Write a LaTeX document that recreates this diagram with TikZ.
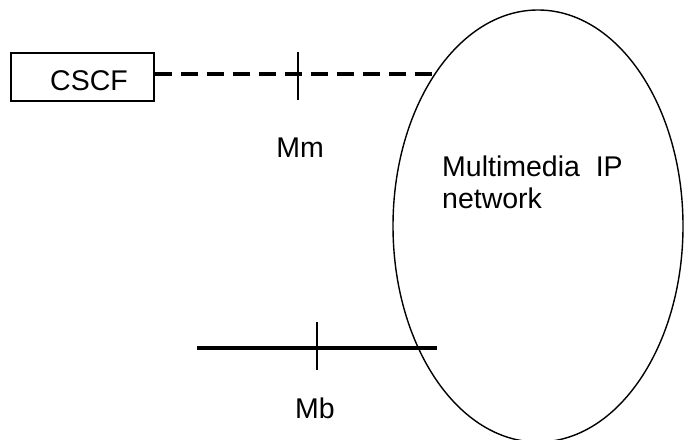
\documentclass[tikz,border=0pt]{standalone}
\usepackage{fontspec}
\setmainfont{Liberation Sans}
\usetikzlibrary{shapes.geometric}
\begin{document}
\begin{tikzpicture}[x=1pt,y=-1pt,
  thinline/.style={line width=1.4pt},
  lbl/.style={inner sep=0pt,font=\fontsize{28.5}{32}\selectfont},
  boxnode/.style={draw,thinline,minimum width=143pt,minimum height=48pt,inner sep=0pt,
     text height=27pt,text depth=0pt,font=\fontsize{28.5}{32}\selectfont},
  refline/.style={line width=3.5pt},
  dashline/.style={line width=3.5pt,dash pattern=on 17pt off 9pt}]
\useasboundingbox (0,0) rectangle (684,439);
\begin{scope}
\clip (0,0) rectangle (684,439);
\node[draw,thinline,ellipse,inner sep=0pt,minimum width=290pt,minimum height=432pt] (net) at (538,226) {};
\end{scope}
\node[boxnode] (cscf) at (82.5,77) {\hspace*{13pt}CSCF};
\coordinate (mmend) at (437,74);
\draw[dashline] (cscf.east |- mmend) -- (mmend);
\coordinate (mmtop) at (298,52);
\coordinate (mmbot) at (298,100);
\draw[thinline] (mmtop) -- (mmbot);
\node[lbl] (mm) at (300,148) {Mm};
\coordinate (mbstart) at (197,348);
\coordinate (mbend) at (437,348);
\draw[refline] (mbstart) -- (mbend);
\coordinate (mbtop) at (317,322);
\coordinate (mbbot) at (317,370);
\draw[thinline] (mbtop) -- (mbbot);
\node[lbl] (mb) at (315,408) {Mb};
\node[lbl,align=left,anchor=north west] (nettext) at (442,156) {Multimedia\ \ IP\\network};
\end{tikzpicture}
\end{document}
